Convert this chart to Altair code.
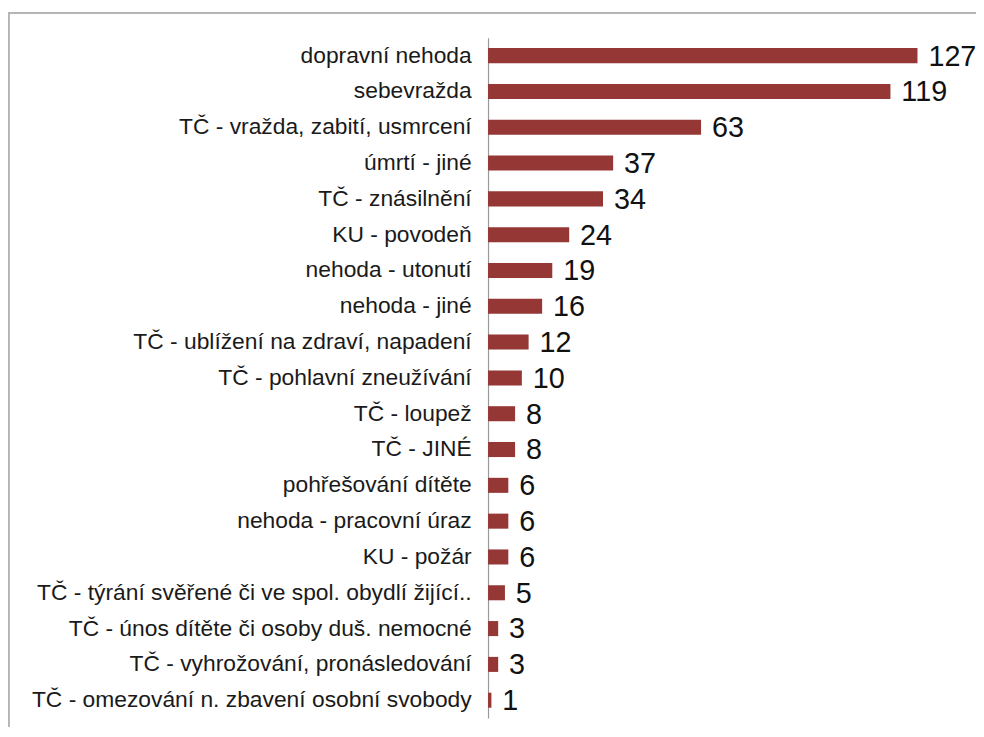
import altair as alt
import pandas as pd

categories = [
    "dopravní nehoda",
    "sebevražda",
    "TČ - vražda, zabití, usmrcení",
    "úmrtí - jiné",
    "TČ - znásilnění",
    "KU - povodeň",
    "nehoda - utonutí",
    "nehoda - jiné",
    "TČ - ublížení na zdraví, napadení",
    "TČ - pohlavní zneužívání",
    "TČ - loupež",
    "TČ - JINÉ",
    "pohřešování dítěte",
    "nehoda - pracovní úraz",
    "KU - požár",
    "TČ - týrání svěřené či ve spol. obydlí žijící..",
    "TČ - únos dítěte či osoby duš. nemocné",
    "TČ - vyhrožování, pronásledování",
    "TČ - omezování n. zbavení osobní svobody",
]
values = [127, 119, 63, 37, 34, 24, 19, 16, 12, 10, 8, 8, 6, 6, 6, 5, 3, 3, 1]

df = pd.DataFrame({"kategorie": categories, "pocet": values})

W = 433
H = 686
FONT = "Liberation Sans"

y_enc = alt.Y(
    "kategorie:N",
    sort=categories,
    scale=alt.Scale(paddingInner=0.58, paddingOuter=0.29),
    axis=alt.Axis(
        title=None,
        ticks=False,
        domain=True,
        domainColor="#9a9a9a",
        domainWidth=1.2,
        labelFont=FONT,
        labelFontSize=23,
        labelColor="#1a1a1a",
        labelPadding=17,
        labelLimit=600,
        grid=False,
    ),
)
x_enc = alt.X(
    "pocet:Q",
    scale=alt.Scale(domain=[0, 127], nice=False, zero=True),
    axis=None,
)

frame_top = alt.Chart(df).mark_rule(color="#b5b5b5", strokeWidth=1.2).encode(
    x=alt.value(-483.5),
    x2=alt.value(W + 300),
    y=alt.value(-25),
)
frame_left = alt.Chart(df).mark_rule(color="#b5b5b5", strokeWidth=1.2).encode(
    x=alt.value(-483.5),
    y=alt.value(-25),
    y2=alt.value(H + 200),
)

bars = alt.Chart(df).mark_bar(color="#953735").encode(
    y=y_enc,
    x=x_enc,
)

labels = alt.Chart(df).mark_text(
    align="left", baseline="middle", dx=11, dy=1,
    font=FONT, fontSize=29, color="#111111",
).encode(
    y=alt.Y("kategorie:N", sort=categories),
    x="pocet:Q",
    text="pocet:Q",
)

chart = alt.layer(frame_top, frame_left, bars, labels).properties(
    width=W,
    height=H,
    padding={"left": 484, "top": 27, "right": 59, "bottom": 6},
    autosize=alt.AutoSizeParams(type="none"),
).configure(background="white").configure_view(strokeWidth=0, strokeOpacity=0)

chart.save("out.html", embed_options={"renderer": "svg", "actions": False})
